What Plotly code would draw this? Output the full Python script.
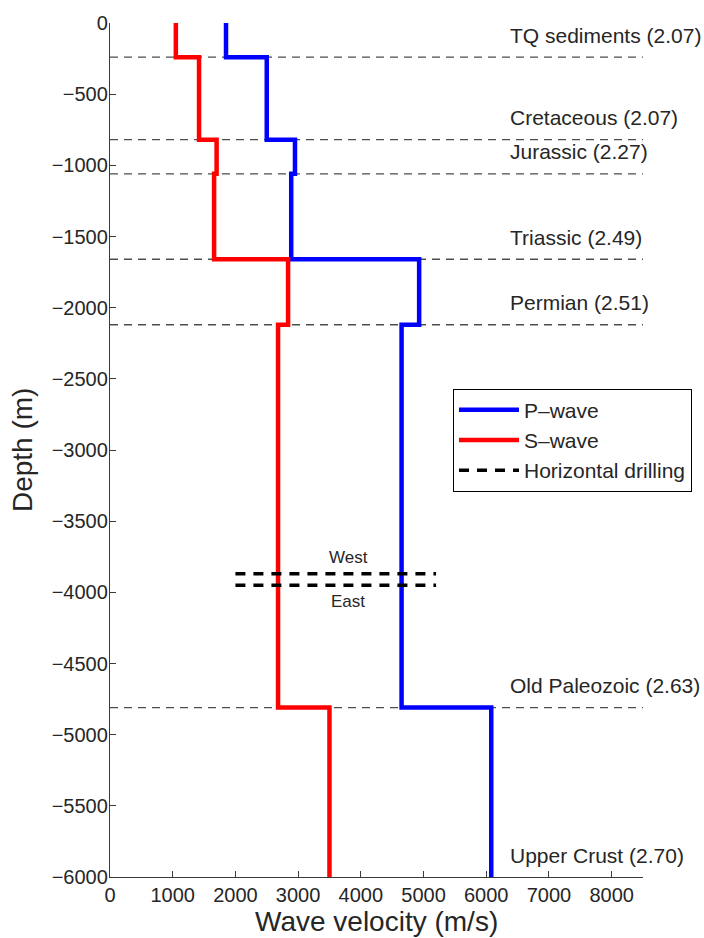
import plotly.graph_objects as go

# Layered velocity model: one entry per geological unit, top to bottom
layer_names = ["TQ sediments", "Cretaceous", "Jurassic", "Triassic",
               "Permian", "Old Paleozoic", "Upper Crust"]
densities = ["2.07", "2.07", "2.27", "2.49", "2.51", "2.63", "2.70"]
layer_top = [0, -240, -820, -1060, -1660, -2120, -4810]
layer_bottom = [-240, -820, -1060, -1660, -2120, -4810, -6000]
vp = [1850, 2500, 2950, 2890, 4930, 4650, 6080]
vs = [1050, 1420, 1700, 1660, 2840, 2680, 3500]

# Horizontal drilling wells
drill_names = ["West", "East"]
drill_depths = [-3870, -3950]
drill_span = [2000, 5200]

FONT = "Liberation Sans, Arial, Helvetica, sans-serif"
TXT = "#262626"
AX = "#3a3a3a"


def step_profile(vel, tops, bottoms):
    xs, ys = [], []
    for v, t, b in zip(vel, tops, bottoms):
        xs += [v, v]
        ys += [t, b]
    return xs, ys


fig = go.Figure()

# Layer boundaries (dashed grey)
bx, by = [], []
for d in layer_bottom[:-1]:
    bx += [0, 8500, None]
    by += [d, d, None]
fig.add_trace(go.Scatter(x=bx, y=by, mode="lines", showlegend=False,
                         hoverinfo="skip",
                         line=dict(color="#4d4d4d", width=1.3, dash="8px,6px")))

px_, py_ = step_profile(vp, layer_top, layer_bottom)
fig.add_trace(go.Scatter(x=px_, y=py_, mode="lines", name="P\u2013wave",
                         line=dict(color="#0000ff", width=4.5)))
sx_, sy_ = step_profile(vs, layer_top, layer_bottom)
fig.add_trace(go.Scatter(x=sx_, y=sy_, mode="lines", name="S\u2013wave",
                         line=dict(color="#ff0000", width=4.5)))

for i, d in enumerate(drill_depths):
    fig.add_trace(go.Scatter(x=drill_span, y=[d, d], mode="lines",
                             name="Horizontal drilling", legendgroup="drill",
                             showlegend=(i == 0),
                             line=dict(color="#000000", width=3.5, dash="10px,8px")))

annotations = []
for name, rho, d in zip(layer_names, densities, layer_bottom):
    annotations.append(dict(x=6350, y=d, xref="x", yref="y", text=f"{name} ({rho})",
                            showarrow=False, xanchor="left", yanchor="middle",
                            yshift=22, font=dict(family=FONT, size=21, color=TXT)))

mid_x = (drill_span[0] + drill_span[1]) / 2 + 200
annotations.append(dict(x=mid_x, y=drill_depths[0], text=drill_names[0], showarrow=False,
                        xanchor="center", yanchor="middle", yshift=16,
                        font=dict(family=FONT, size=17, color=TXT)))
annotations.append(dict(x=mid_x, y=drill_depths[1], text=drill_names[1], showarrow=False,
                        xanchor="center", yanchor="middle", yshift=-16,
                        font=dict(family=FONT, size=17, color=TXT)))

# Axis titles
annotations.append(dict(x=0.5, y=-0.052, xref="paper", yref="paper",
                        text="Wave velocity (m/s)", showarrow=False,
                        xanchor="center", yanchor="middle",
                        font=dict(family=FONT, size=28, color=TXT)))
annotations.append(dict(x=-0.165, y=0.5, xref="paper", yref="paper",
                        text="Depth (m)", showarrow=False, textangle=-90,
                        xanchor="center", yanchor="middle",
                        font=dict(family=FONT, size=28, color=TXT)))

fig.update_layout(
    width=704, height=938,
    margin=dict(l=110, r=61, t=13, b=61),
    paper_bgcolor="white", plot_bgcolor="white",
    font=dict(family=FONT, color=TXT),
    annotations=annotations,
    legend=dict(x=0.6435, y=0.572, xanchor="left", yanchor="top",
                bgcolor="white", bordercolor="#000000", borderwidth=1,
                font=dict(family=FONT, size=21, color=TXT),
                itemwidth=60, tracegroupgap=0),
    xaxis=dict(range=[0, 8500], tickvals=list(range(0, 8001, 1000)),
               showgrid=False, zeroline=False, showline=True, linecolor=AX,
               linewidth=1.3, ticks="inside", ticklen=6, tickcolor=AX,
               tickfont=dict(family=FONT, size=20, color=TXT)),
    yaxis=dict(range=[-6000, 0], tickvals=list(range(0, -6001, -500)),
               showgrid=False, zeroline=False, showline=True, linecolor=AX,
               linewidth=1.3, ticks="inside", ticklen=6, tickcolor=AX,
               ticklabelstandoff=-3,
               tickfont=dict(family=FONT, size=20, color=TXT)),
)

fig.write_html("out.html")
